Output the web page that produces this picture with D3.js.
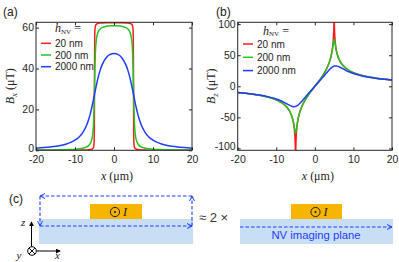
<!DOCTYPE html>
<html>
<head>
<meta charset="utf-8">
<script src="https://cdn.jsdelivr.net/npm/d3@7"></script>
<style>
  body { margin: 0; background: #fff; }
  svg { display: block; font-family: "Liberation Sans", Arial, sans-serif; }
  .tick text { font-size: 10.5px; fill: #262626; }
  .tick line { stroke: #262626; }
  .serif { font-family: "Liberation Serif", "DejaVu Serif", serif; }
</style>
</head>
<body>
<div id="chart"></div>
<script>
// x positions along the strip (µm)
const xs = [-20,-18,-16,-14,-12,-10,-9,-8,-7,-6.5,-6,-5.75,-5.5,-5.3,-5.2,-5.1,-5.05,-5,-4.95,-4.9,-4.8,-4.7,-4.5,-4.25,-4,-3.5,-3,-2,-1,
            0,1,2,3,3.5,4,4.25,4.5,4.7,4.8,4.9,4.95,5,5.05,5.1,5.2,5.3,5.5,5.75,6,6.5,7,8,9,10,12,14,16,18,20];

const heights = ['20 nm', '200 nm', '2000 nm'];

// Bx (µT), panel (a)
const bx20 = [0.01,0.01,0.02,0.02,0.03,0.05,0.07,0.10,0.17,0.23,0.36,0.49,0.76,1.29,1.94,3.89,7.53,31.22,54.91,58.55,60.49,61.15,61.68,61.94,62.08,62.21,62.27,62.33,62.35,
              62.36,62.35,62.33,62.27,62.21,62.08,61.94,61.68,61.15,60.49,58.55,54.91,31.22,7.53,3.89,1.94,1.29,0.76,0.49,0.36,0.23,0.17,0.10,0.07,0.05,0.03,0.02,0.02,0.01,0.01];
const bx200 = [0.11,0.13,0.17,0.23,0.33,0.53,0.71,1.02,1.65,2.29,3.57,4.83,7.19,11.31,15.24,21.64,25.99,30.86,35.73,40.08,46.48,50.41,54.53,56.89,58.15,59.41,60.04,60.62,60.86,
               60.93,60.86,60.62,60.04,59.41,58.15,56.89,54.53,50.41,46.48,40.08,35.73,30.86,25.99,21.64,15.24,11.31,7.19,4.83,3.57,2.29,1.65,1.02,0.71,0.53,0.33,0.23,0.17,0.13,0.11];
const bx2000 = [1.05,1.31,1.69,2.26,3.21,4.93,6.40,8.66,12.34,15.03,18.45,20.46,22.63,24.48,25.42,26.37,26.85,27.33,27.81,28.29,29.24,30.18,32.01,34.16,36.13,39.46,42.01,45.28,46.89,
                47.37,46.89,45.28,42.01,39.46,36.13,34.16,32.01,30.18,29.24,28.29,27.81,27.33,26.85,26.37,25.42,24.48,22.63,20.46,18.45,15.03,12.34,8.66,6.40,4.93,3.21,2.26,1.69,1.31,1.05];

// Bz (µT), panel (b)
const bz20 = [-10.17,-11.35,-12.87,-14.87,-17.66,-21.86,-24.93,-29.18,-35.66,-40.53,-47.71,-52.98,-60.57,-70.33,-78.14,-91.45,-104.1,-123.7,-103.9,-91.05,-77.35,-69.13,-58.58,-49.99,-43.72,-34.52,-27.59,-16.86,-8.07,
              0,8.07,16.86,27.59,34.52,43.72,49.99,58.58,69.13,77.35,91.05,103.9,123.7,104.1,91.45,78.14,70.33,60.57,52.98,47.71,40.53,35.66,29.18,24.93,21.86,17.66,14.87,12.87,11.35,10.17];
const bz200 = [-10.17,-11.35,-12.87,-14.87,-17.65,-21.85,-24.91,-29.14,-35.56,-40.36,-47.33,-52.31,-59.11,-66.71,-70.3,-73.8,-74.7,-75.0,-74.6,-73.5,-69.5,-65.52,-57.12,-49.32,-43.34,-34.35,-27.50,-16.83,-8.05,
               0,8.05,16.83,27.50,34.35,43.34,49.32,57.12,65.52,69.5,73.5,74.6,75.0,74.7,73.8,70.3,66.71,59.11,52.31,47.33,40.36,35.56,29.14,24.91,21.85,17.65,14.87,12.87,11.35,10.17];
const bz2000 = [-10.05,-11.20,-12.63,-14.50,-17.01,-20.56,-22.91,-25.75,-29.03,-30.67,-32.03,-32.50,-32.75,-32.76,-32.70,-32.58,-32.51,-32.42,-32.32,-32.20,-31.93,-31.61,-30.84,-29.62,-28.19,-24.89,-21.29,-13.98,-6.90,
                0,6.90,13.98,21.29,24.89,28.19,29.62,30.84,31.61,31.93,32.20,32.32,32.42,32.51,32.58,32.70,32.76,32.75,32.50,32.03,30.67,29.03,25.75,22.91,20.56,17.01,14.50,12.63,11.20,10.05];

const xTicks = [-20, -10, 0, 10, 20];
const bxTicks = [0, 20, 40, 60];
const bzTicks = [-100, -50, 0, 50, 100];

const colors = ['#ff1c1c', '#22c422', '#1f3cff'];
const blue = '#1f3cff';
const axisCol = '#262626';

const W = 399, H = 262;
const svg = d3.select('#chart').append('svg').attr('width', W).attr('height', H);
const defs = svg.append('defs');

function panel(o) {
  const g = svg.append('g');
  const x = d3.scaleLinear().domain([-20, 20]).range([o.left, o.right]);
  const y = d3.scaleLinear().domain(o.domain).range([150.3, 22.3]);
  const [x0, x1] = x.range(), [y0, y1] = y.range();

  defs.append('clipPath').attr('id', o.id)
    .append('rect').attr('x', x0).attr('y', y1).attr('width', x1 - x0).attr('height', y0 - y1);

  const line = d3.line().x((d, i) => x(xs[i])).y(d => y(d)).curve(d3.curveMonotoneX);
  o.series.forEach((s, i) => {
    g.append('path').datum(s)
      .attr('clip-path', `url(#${o.id})`)
      .attr('d', line)
      .attr('fill', 'none')
      .attr('stroke', colors[i])
      .attr('stroke-width', 1.5);
  });

  // axes with inward ticks on all sides (matlab style)
  const fmt = d => String(d);
  g.append('g').attr('transform', `translate(0,${y0})`)
    .call(d3.axisBottom(x).tickValues(xTicks).tickSize(-3).tickPadding(5).tickFormat(fmt));
  g.append('g').attr('transform', `translate(0,${y1})`)
    .call(d3.axisTop(x).tickValues(xTicks).tickSize(-3).tickFormat(''));
  const ya = g.append('g').attr('transform', `translate(${x0},0)`)
    .call(d3.axisLeft(y).tickValues(o.ticks).tickSize(-3).tickPadding(2).tickFormat(fmt));
  g.append('g').attr('transform', `translate(${x1},0)`)
    .call(d3.axisRight(y).tickValues(o.ticks).tickSize(-3).tickFormat(''));
  g.selectAll('.domain').remove();
  g.selectAll('.tick text').attr('font-family', '"Liberation Sans", Arial, sans-serif');
  // lowest y label sits a little above the corner, as in the original
  ya.selectAll('.tick text').filter(d => d === o.ticks[0]).attr('dy', '0.1em');

  g.append('rect').attr('x', x0).attr('y', y1).attr('width', x1 - x0).attr('height', y0 - y1)
    .attr('fill', 'none').attr('stroke', axisCol).attr('stroke-width', 1);

  // axis labels
  const xl = g.append('text').attr('class', 'serif').attr('x', (x0 + x1) / 2 + 3).attr('y', 180)
    .attr('text-anchor', 'middle').attr('font-size', 12).attr('fill', '#222');
  xl.append('tspan').attr('font-style', 'italic').text('x');
  xl.append('tspan').text(' (μm)');

  const yl = g.append('text').attr('class', 'serif')
    .attr('transform', `translate(${o.ylabX},${(y0 + y1) / 2}) rotate(-90)`)
    .attr('text-anchor', 'middle').attr('font-size', 12).attr('fill', '#222');
  yl.append('tspan').attr('font-style', 'italic').text('B');
  yl.append('tspan').attr('font-style', 'italic').attr('font-size', 9).attr('dy', 3).text(o.sub);
  yl.append('tspan').attr('dy', -3).text(' (μT)');

  // panel letter
  svg.append('text').attr('x', o.letterX).attr('y', 16).attr('font-size', 12).attr('fill', '#222').text(o.letter);

  // legend
  const lg = g.append('g');
  const ht = lg.append('text').attr('class', 'serif').attr('x', o.leg.hx).attr('y', o.leg.hy)
    .attr('font-size', 12).attr('fill', '#222');
  ht.append('tspan').attr('font-style', 'italic').text('h');
  ht.append('tspan').attr('font-size', 7).attr('dy', 1.5).text('NV');
  ht.append('tspan').attr('dy', -1.5).text(' =');
  heights.forEach((h, i) => {
    const yy = o.leg.y0 + i * o.leg.dy;
    lg.append('line').attr('x1', o.leg.lx).attr('x2', o.leg.lx + 10).attr('y1', yy).attr('y2', yy)
      .attr('stroke', colors[i]).attr('stroke-width', 1.5);
    lg.append('text').attr('x', o.leg.lx + 14).attr('y', yy + 3.6).attr('font-size', 10).attr('fill', '#222').text(h);
  });
}

panel({ id: 'clipA', left: 36, right: 192, domain: [0, 62.6], ticks: bxTicks,
        series: [bx20, bx200, bx2000], sub: 'x', ylabX: 14, letter: '(a)', letterX: 3,
        leg: { hx: 55, hy: 32, lx: 41, y0: 43.3, dy: 11.7 } });
panel({ id: 'clipB', left: 237.7, right: 392, domain: [-103, 103], ticks: bzTicks,
        series: [bz20, bz200, bz2000], sub: 'z', ylabX: 215, letter: '(b)', letterX: 216,
        leg: { hx: 263, hy: 34.5, lx: 243, y0: 44, dy: 13.3 } });

// ---- panel (c): schematic ----
defs.append('marker').attr('id', 'chev').attr('viewBox', '0 0 6 6').attr('refX', 5.5).attr('refY', 3)
  .attr('markerWidth', 6).attr('markerHeight', 6).attr('markerUnits', 'userSpaceOnUse').attr('orient', 'auto')
  .append('path').attr('d', 'M0.5,0.5L5.5,3L0.5,5.5').attr('fill', 'none').attr('stroke', blue).attr('stroke-width', 1);
defs.append('marker').attr('id', 'tri').attr('viewBox', '0 0 6 6').attr('refX', 5).attr('refY', 3)
  .attr('markerWidth', 5).attr('markerHeight', 5).attr('markerUnits', 'userSpaceOnUse').attr('orient', 'auto')
  .append('path').attr('d', 'M0,0L6,3L0,6Z').attr('fill', '#000');

const c = svg.append('g');
c.append('text').attr('x', 9).attr('y', 203).attr('font-size', 12).attr('fill', '#222').text('(c)');

function strip(x0, x1, wx0, wx1) {
  c.append('rect').attr('x', x0).attr('y', 219).attr('width', x1 - x0).attr('height', 25).attr('fill', '#c7def5');
  c.append('rect').attr('x', wx0).attr('y', 204).attr('width', wx1 - wx0).attr('height', 15).attr('fill', '#f7b400');
  const cx = (wx0 + wx1) / 2 - 1;
  c.append('circle').attr('cx', cx).attr('cy', 212).attr('r', 4.6).attr('fill', 'none').attr('stroke', '#222').attr('stroke-width', 1);
  c.append('circle').attr('cx', cx).attr('cy', 212).attr('r', 1.1).attr('fill', '#222');
  c.append('text').attr('class', 'serif').attr('x', cx + 8).attr('y', 216).attr('font-size', 12)
    .attr('font-style', 'italic').attr('fill', '#222').text('I');
}
function dash(x1, y1, x2, y2) {
  c.append('line').attr('x1', x1).attr('y1', y1).attr('x2', x2).attr('y2', y2)
    .attr('stroke', blue).attr('stroke-width', 1.1).attr('stroke-dasharray', '3.5,2')
    .attr('marker-end', 'url(#chev)');
}

strip(39, 193, 90, 142);
dash(192, 196, 40, 196);
dash(40, 196, 40, 226);
dash(40, 226, 192, 226);
dash(192, 226, 192, 196);

c.append('text').attr('x', 199).attr('y', 222).attr('font-size', 13).attr('fill', '#333').text('≈ 2 ×');

strip(240, 393, 291, 342);
dash(240, 227, 392, 227);
c.append('text').attr('x', 316).attr('y', 239).attr('text-anchor', 'middle').attr('font-size', 11.3)
  .attr('fill', blue).text('NV imaging plane');

// coordinate icon
c.append('line').attr('x1', 31.5).attr('y1', 246.5).attr('x2', 31.5).attr('y2', 222).attr('stroke', '#000').attr('marker-end', 'url(#tri)');
c.append('line').attr('x1', 36.5).attr('y1', 251).attr('x2', 60).attr('y2', 251).attr('stroke', '#000').attr('marker-end', 'url(#tri)');
c.append('circle').attr('cx', 32).attr('cy', 251).attr('r', 4.3).attr('fill', '#fff').attr('stroke', '#000');
c.append('path').attr('d', 'M29,248L35,254M35,248L29,254').attr('stroke', '#000').attr('stroke-width', 0.9);
[['z', 21, 226], ['y', 16.5, 259], ['x', 55, 259]].forEach(([t, tx, ty]) =>
  c.append('text').attr('class', 'serif').attr('x', tx).attr('y', ty).attr('font-size', 11)
    .attr('font-style', 'italic').attr('fill', '#222').text(t));
</script>
</body>
</html>
